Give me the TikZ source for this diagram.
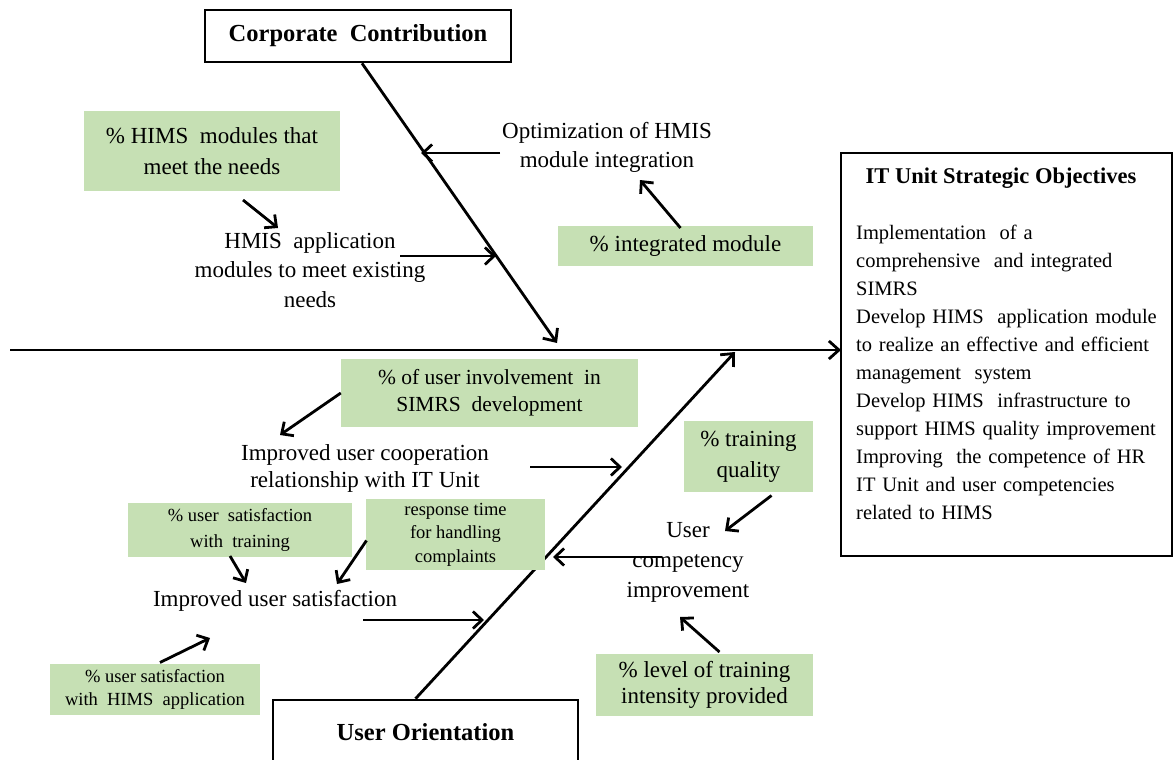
\documentclass[tikz,border=0pt]{standalone}
\usepackage{fontspec}
\setmainfont{Liberation Serif}
\usetikzlibrary{positioning,arrows.meta,calc}
\definecolor{kpigreen}{RGB}{198,224,180}

\begin{document}
\begin{tikzpicture}[
    x=1pt, y=-1pt,
    font=\fontsize{23}{29}\selectfont,
    kpi/.style={fill=kpigreen, align=center, inner sep=0pt},
    cause/.style={align=center, inner sep=0pt},
    head/.style={draw, line width=2.6pt, align=center, inner sep=0pt,
                 font=\bfseries\fontsize{24.5}{29}\selectfont},
    bone/.style={line width=2.8pt, -{Straight Barb[length=10pt, width=18pt]}},
    arr/.style={line width=2.8pt, -{Straight Barb[length=9pt, width=17pt]}},
  ]
    \useasboundingbox (0,0) rectangle (1173,760);

    % Category heads
    \node[head, minimum width=306, minimum height=52] (corp) at (358,36)
        {Corporate\ \ Contribution};
    \node[head, minimum width=305, minimum height=64] (orient) at (425.5,732)
        {User Orientation};

    % Effect box (right)
    \draw[line width=2.6pt] (841,153) rectangle (1172,556);
    \node[inner sep=0pt, font=\bfseries\fontsize{22.5}{28}\selectfont] (objtitle) at (1001,178)
        {IT Unit Strategic Objectives};
    \node[inner sep=0pt, anchor=north west, align=left, text width=315,
          font=\fontsize{20.5}{28}\selectfont] (objtext) at (856,225)
        {Implementation\ \ of a\\
         comprehensive\ \ and integrated\\
         SIMRS\\
         Develop HIMS\ \ application module\\
         to realize an effective and efficient\\
         management\ \ system\\
         Develop HIMS\ \ infrastructure to\\
         support HIMS quality improvement\\
         Improving\ \ the competence of HR\\
         IT Unit and user competencies\\
         related to HIMS};
    \coordinate (objin) at (841,350);

    % Spine and bones
    \coordinate (tail) at (10,350);
    \coordinate (uhead) at (557,343);
    \coordinate (lhead) at (735,352);
    \draw[bone] (tail) -- (objin);
    \draw[bone] ([xshift=4pt]corp.south) -- (uhead);
    \draw[bone] ([xshift=-10pt]orient.north) -- (lhead);

    % Points on the bones
    \coordinate (ub1) at (421,153);
    \coordinate (ub2) at (496,256);
    \coordinate (lb1) at (622,467);
    \coordinate (lb2) at (553,557);
    \coordinate (lb3) at (484,620);

    % Corporate Contribution causes
    \node[cause] (optim) at (607,147) {Optimization of HMIS\\module integration};
    \node[cause, font=\fontsize{23}{29.5}\selectfont] (appmod) at (310,270)
        {HMIS\ \ application\\modules to meet existing\\needs};
    \node[kpi, minimum width=256, minimum height=80, font=\fontsize{23}{31}\selectfont] (hims) at (212,151)
        {\% HIMS\ \ modules that\\meet the needs};
    \node[kpi, minimum width=255, minimum height=40] (integ) at (685.5,246)
        {\% integrated module};

    % User Orientation causes
    \node[cause, font=\fontsize{23}{27}\selectfont] (coop) at (365,468)
        {Improved user cooperation\\relationship with IT Unit};
    \node[cause] (usat) at (275,601) {Improved user satisfaction};
    \node[cause, font=\fontsize{23}{30}\selectfont] (ucomp) at (688,562) {User\\competency\\improvement};
    \node[kpi, minimum width=297, minimum height=68, font=\fontsize{21.5}{27}\selectfont] (involve) at (489.5,393)
        {\% of user involvement\ \ in\\SIMRS\ \ development};
    \node[kpi, minimum width=224, minimum height=54, font=\fontsize{18.5}{26}\selectfont] (trsat) at (240,530)
        {\% user\ \ satisfaction\\with\ \ training};
    \node[kpi, minimum width=179, minimum height=71, font=\fontsize{18.5}{23.5}\selectfont] (resp) at (455.5,534.5)
        {response time\\for handling\\complaints};
    \node[kpi, minimum width=210, minimum height=51, font=\fontsize{18.5}{23}\selectfont] (appsat) at (155,689.5)
        {\% user satisfaction\\with\ \ HIMS\ \ application};
    \node[kpi, minimum width=129, minimum height=71, font=\fontsize{23}{31}\selectfont] (trqual) at (748.5,456.5)
        {\% training\\quality};
    \node[kpi, minimum width=217, minimum height=62, font=\fontsize{23}{26.5}\selectfont] (intens) at (704.5,685)
        {\% level of training\\intensity provided};

    % Arrows
    \draw[arr] ([shift={(31,49)}]hims.center) -- ([shift={(-32,-42)}]appmod.center);
    \draw[arr] ([shift={(90,-14)}]appmod.center) -- (ub2);
    \draw[arr] ([shift={(-107,6)}]optim.center) -- (ub1);
    \draw[arr] ([shift={(-5,-18)}]integ.center) -- ([shift={(33,33)}]optim.center);
    \draw[arr] (involve.west) -- ([shift={(-85,-33)}]coop.center);
    \draw[arr] ([shift={(165,-1)}]coop.center) -- (lb1);
    \draw[arr] ([shift={(-10,26)}]trsat.center) -- ([shift={(-29,-18)}]usat.center);
    \draw[arr] ([shift={(-89,6)}]resp.center) -- ([shift={(62,-17)}]usat.center);
    \draw[arr] ([shift={(88,19)}]usat.center) -- (lb3);
    \draw[arr] ([shift={(5,-27)}]appsat.center) -- ([shift={(-65,37)}]usat.center);
    \draw[arr] ([shift={(23,39)}]trqual.center) -- ([shift={(37,-31)}]ucomp.center);
    \draw[arr] ([shift={(-26,-5)}]ucomp.center) -- (lb2);
    \draw[arr] ([shift={(15,-33)}]intens.center) -- ([shift={(-8,55)}]ucomp.center);
\end{tikzpicture}
\end{document}
